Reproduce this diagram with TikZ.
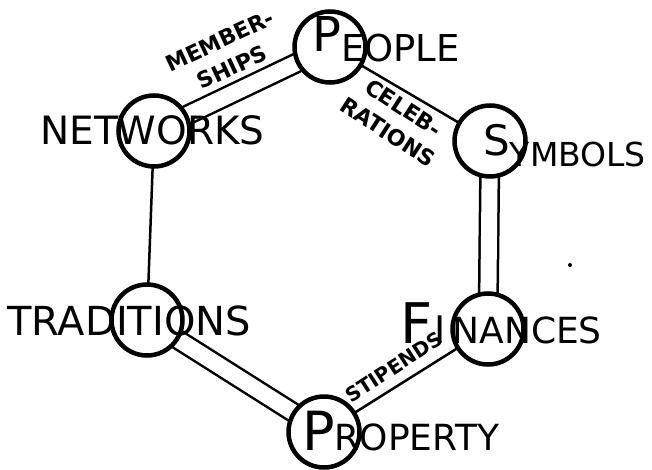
\documentclass[tikz,border=0pt]{standalone}
\usepackage{fontspec}
\setmainfont{DejaVu Sans}
\usetikzlibrary{backgrounds}
\newcommand{\bigletter}[2]{{\fontsize{#1}{#1}\selectfont #2}}
\begin{document}
\begin{tikzpicture}[x=1pt,y=-1pt,
  spot/.style={circle, draw, line width=4.5pt, minimum size=71pt, inner sep=0pt, outer sep=0pt},
  tie/.style={line width=2.5pt},
  twin/.style={line width=2.5pt, double, double distance=16pt},
  word/.style={anchor=base west, inner sep=0pt},
  tag/.style={inner sep=0pt, align=center, font=\bfseries\fontsize{22}{29}\selectfont}]
\useasboundingbox (0,0) rectangle (652,470);

% The six circles of the hexagon
\node[spot] (people) at (330,47) {};
\node[spot] (symbols) at (490,141) {};
\node[spot] (finances) at (488,329) {};
\node[spot] (property) at (324,432) {};
\node[spot] (traditions) at (147,320) {};
\node[spot] (networks) at (154,131) {};

% Connectors, behind the circles
\begin{pgfonlayer}{background}
\draw[twin] (networks) -- (people);
\draw[tie] (people) -- (symbols);
\draw[twin] (symbols) -- (finances);
\draw[tie] (finances) -- (property);
\draw[twin] (property) -- (traditions);
\draw[tie] (traditions) -- (networks);
\end{pgfonlayer}

% Names of the circles
\node[word] (people-txt) at (312,62) {\raisebox{10pt}{\bigletter{48}{P}}\bigletter{37}{EOPLE}};
\node[word] (symbols-txt) at (483,167) {\raisebox{11pt}{\bigletter{42}{S}}\bigletter{33}{YMBOLS}};
\node[word] (finances-txt) at (400,343) {\bigletter{56}{F}\hspace{2pt}\bigletter{38}{I}\hspace{7pt}\bigletter{36}{NANCES}};
\node[word] (property-txt) at (302,450) {\bigletter{54}{P}\bigletter{36}{ROPERTY}};
\node[word] (traditions-txt) at (7,335) {\bigletter{40}{TRADITIONS}};
\node[word] (networks-txt) at (40,145) {\bigletter{39}{NETWORKS}};

% Labels on the connectors
\node[tag, rotate=25] (memberships) at (226,54) {MEMBER-\\SHIPS};
\node[tag, rotate=-33] (celebrations) at (396,120) {CELEB-\\RATIONS};
\node[tag, rotate=33, font=\bfseries\fontsize{20}{24}\selectfont] (stipends) at (394,367) {STIPENDS};

% Stray mark
\fill (570,265) circle (2pt);
\end{tikzpicture}
\end{document}
